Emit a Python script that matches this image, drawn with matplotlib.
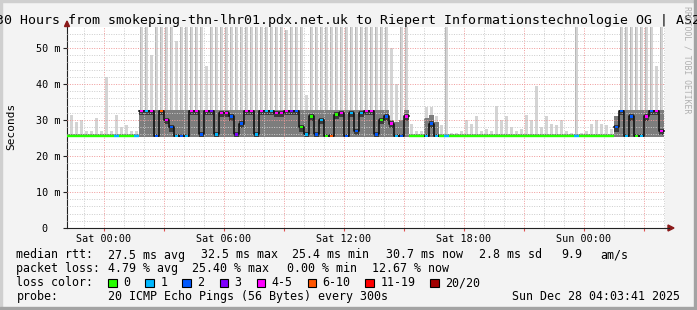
import matplotlib
matplotlib.use("Agg")
import matplotlib.pyplot as plt
import numpy as np
from matplotlib.collections import LineCollection
from matplotlib.lines import Line2D
from matplotlib.patches import Polygon, Rectangle

W, H = 697, 310
MONO = "DejaVu Sans Mono"

title = "30 Hours from smokeping-thn-lhr01.pdx.net.uk to Riepert Informationstechnologie OG | AS2"

# one column = 15 min, first column starts Fri 22:00 (hours relative to Sat 00:00)
col_start = -2.0
col_step = 0.25

median_ms = [
    25.5, 25.5, 25.5, 25.5, 25.5, 25.5, 25.5, 25.5, 25.5, 25.5,
    25.5, 25.5, 25.5, 25.5, 25.5, 32.5, 32.5, 32.5, 25.5, 32.5,
    30.0, 28.0, 25.5, 25.5, 25.5, 32.5, 32.5, 26.0, 32.5, 32.5,
    26.0, 32.0, 32.0, 31.0, 26.0, 29.0, 32.5, 32.5, 26.0, 32.5,
    32.5, 32.5, 32.0, 32.0, 32.5, 32.5, 32.5, 28.0, 26.0, 31.0,
    26.0, 30.0, 25.5, 25.5, 31.5, 32.0, 25.5, 32.0, 27.0, 32.0,
    32.5, 32.5, 26.0, 30.0, 31.0, 29.0, 25.5, 25.5, 31.0, 25.5,
    25.5, 25.5, 25.5, 29.0, 25.5, 25.5, 25.5, 25.5, 25.5, 25.5,
    25.5, 25.5, 25.5, 25.5, 25.5, 25.5, 25.5, 25.5, 25.5, 25.5,
    25.5, 25.5, 25.5, 25.5, 25.5, 25.5, 25.5, 25.5, 25.5, 25.5,
    25.5, 25.5, 25.5, 25.5, 25.5, 25.5, 25.5, 25.5, 25.5, 25.5,
    28.0, 32.5, 25.5, 31.0, 25.5, 25.5, 31.0, 32.5, 32.5, 27.0,
]

# lost pings out of 20
loss_pings = [
    0, 0, 0, 0, 0, 0, 0, 0, 0, 0,
    1, 0, 0, 0, 1, 4, 1, 4, 2, 7,
    4, 2, 1, 2, 1, 4, 4, 2, 4, 3,
    1, 4, 5, 2, 3, 2, 4, 4, 1, 4,
    1, 1, 4, 5, 4, 3, 2, 0, 1, 0,
    2, 1, 0, 7, 0, 4, 2, 1, 2, 1,
    4, 4, 2, 0, 2, 4, 1, 2, 4, 0,
    0, 0, 1, 2, 1, 0, 1, 0, 0, 0,
    0, 0, 0, 0, 0, 0, 0, 0, 0, 0,
    0, 0, 0, 0, 0, 0, 0, 0, 0, 0,
    0, 0, 1, 0, 0, 0, 0, 0, 0, 0,
    2, 2, 1, 2, 0, 1, 4, 2, 4, 4,
]

# upper edge of the dense smoke
smoke_hi_ms = [
    26.0, 26.0, 26.0, 26.0, 26.0, 26.0, 26.0, 26.0, 26.0, 26.0,
    26.0, 26.0, 26.0, 26.0, 26.0, 32.8, 32.8, 32.8, 32.8, 32.8,
    32.8, 32.8, 32.8, 32.8, 32.8, 32.8, 32.8, 32.8, 32.8, 32.8,
    32.8, 32.8, 32.8, 32.8, 32.8, 32.8, 32.8, 32.8, 32.8, 32.8,
    32.8, 32.8, 32.8, 32.8, 32.8, 32.8, 32.8, 32.8, 32.8, 32.8,
    32.8, 32.8, 32.8, 32.8, 32.8, 32.8, 32.8, 32.8, 32.8, 32.8,
    32.8, 32.8, 32.8, 32.8, 32.8, 30.0, 29.5, 30.0, 32.8, 26.0,
    26.0, 26.0, 30.5, 31.5, 29.5, 26.0, 26.0, 26.0, 26.0, 26.0,
    26.0, 26.0, 26.0, 26.0, 26.0, 26.0, 26.0, 26.0, 26.0, 26.0,
    26.0, 26.0, 26.0, 26.0, 26.0, 26.0, 26.0, 26.0, 26.0, 26.0,
    26.0, 26.0, 26.0, 26.0, 26.0, 26.0, 26.0, 26.0, 26.0, 26.0,
    31.0, 32.8, 32.8, 32.8, 32.8, 32.8, 32.8, 32.8, 32.8, 32.8,
]

# slowest ping of each column (light smoke)
max_ms = [
    30.0, 31.5, 29.5, 30.0, 27.0, 27.0, 30.5, 27.0, 42.0, 27.0,
    31.5, 28.0, 28.5, 27.0, 27.0, 60.0, 60.0, 48.0, 60.0, 60.0,
    60.0, 60.0, 52.0, 60.0, 60.0, 60.0, 60.0, 60.0, 45.0, 60.0,
    60.0, 60.0, 60.0, 60.0, 60.0, 60.0, 60.0, 60.0, 60.0, 60.0,
    60.0, 60.0, 60.0, 60.0, 55.0, 60.0, 60.0, 60.0, 37.0, 60.0,
    60.0, 60.0, 60.0, 60.0, 60.0, 60.0, 60.0, 60.0, 60.0, 60.0,
    60.0, 60.0, 60.0, 60.0, 60.0, 50.0, 40.0, 60.0, 60.0, 29.0,
    27.0, 27.0, 33.5, 33.5, 31.0, 28.5, 60.0, 26.5, 26.5, 27.0,
    30.0, 29.0, 31.0, 27.0, 27.5, 27.0, 34.0, 30.0, 31.0, 28.0,
    27.0, 27.5, 31.5, 30.0, 39.5, 28.0, 31.0, 29.0, 28.5, 30.0,
    27.0, 26.5, 60.0, 26.5, 27.0, 29.0, 30.0, 29.0, 28.5, 27.5,
    31.0, 60.0, 60.0, 60.0, 60.0, 60.0, 60.0, 60.0, 45.0, 60.0,
]
min_rtt_ms = 25.3

x_tick_hours = [0, 6, 12, 18, 24]
x_tick_labels = ["Sat 00:00", "Sat 06:00", "Sat 12:00", "Sat 18:00", "Sun 00:00"]
y_ticks = [0, 10, 20, 30, 40, 50]
y_tick_labels = ["0", "10 m", "20 m", "30 m", "40 m", "50 m"]

loss_names = ["0", "1", "2", "3", "4-5", "6-10", "11-19", "20/20"]
loss_upper = [0, 1, 2, 3, 5, 10, 19, 20]
loss_colors = ["#26ff00", "#00b8ff", "#0059ff", "#7e00ff", "#ff00ff", "#ff5500", "#ff0000", "#a10000"]

rtt_stats = ["27.5 ms avg", "32.5 ms max", "25.4 ms min", "30.7 ms now", "2.8 ms sd", "9.9", "am/s"]
loss_stats = ["4.79 % avg", "25.40 % max", "0.00 % min", "12.67 % now"]
probe_text = "20 ICMP Echo Pings (56 Bytes) every 300s"
stamp_text = "Sun Dec 28 04:03:41 2025"


def fx(x):
    return x / W


def fy(y):
    return 1 - y / H


def loss_color(n):
    for up, c in zip(loss_upper, loss_colors):
        if n <= up:
            return c
    return loss_colors[-1]


fig = plt.figure(figsize=(W / 100, H / 100), dpi=100, facecolor="#f3f3f3")

# frame of the image
fig.patches.append(Rectangle((0, fy(2)), 1, 2 / H, transform=fig.transFigure, color="#cfcfcf", zorder=0))
fig.patches.append(Rectangle((0, 0), 2 / W, 1, transform=fig.transFigure, color="#cfcfcf", zorder=0))
fig.patches.append(Rectangle((0, 0), 1, 3 / H, transform=fig.transFigure, color="#a3a3a3", zorder=0))
fig.patches.append(Rectangle((fx(694), 0), 3 / W, 1, transform=fig.transFigure, color="#a3a3a3", zorder=0))

x0, x1, ybot, ytop = 67, 665, 228, 27.1
ax = fig.add_axes([fx(x0), fy(ybot), (x1 - x0) / W, (ybot - ytop) / H])
ax.set_xlim((x0 - 104) / 20, (x1 - 104) / 20)
ax.set_ylim(0, (ybot - ytop) / 3.6)
ax.set_facecolor("white")

n = len(median_ms)
edges = col_start + col_step * np.arange(n + 1)
centers = edges[:-1] + col_step / 2
med = np.array(median_ms)
hi = np.array(smoke_hi_ms)
mx = np.array(max_ms)
busy = hi > 27

# smoke: light outliers, grey spread, dark core around the median
ax.bar(centers, mx - min_rtt_ms, bottom=min_rtt_ms, width=0.16, color="#d4d4d4", lw=0, zorder=1)
tall = mx >= 55
ax.bar(centers[tall] - 0.05, mx[tall] - min_rtt_ms, bottom=min_rtt_ms, width=0.06,
       color="#b8b8b8", lw=0, zorder=1)
ax.stairs(hi, edges, baseline=min_rtt_ms, fill=True, color="#7d7d7d", zorder=2)
core_lo = np.where(busy, np.maximum(min_rtt_ms, med - 1.2), min_rtt_ms)
core_hi = np.where(busy, np.minimum(hi, med + 0.6), min_rtt_ms)
ax.stairs(core_hi, edges, baseline=core_lo, fill=True, color="#3c3c3c", zorder=2)

# grid drawn over the smoke
for h in range(-1, 29):
    c = "#f09a9a" if h % 3 == 0 else "#cccccc"
    ax.axvline(h, color=c, lw=0.7, ls=(0, (1, 1.5)), zorder=3)
for v in range(2, 56, 2):
    c = "#f09a9a" if v % 10 == 0 else "#cccccc"
    ax.axhline(v, color=c, lw=0.7, ls=(0, (1, 1.5)), zorder=3)

# median: black steps where the link is busy, loss-coloured dots on top
mb = np.where(busy, med, np.nan)
ax.step(edges, np.r_[mb, mb[-1]], where="post", color="#111111", lw=1.2, zorder=4)
ax.scatter(centers[busy], med[busy], c=[loss_color(k) for k in np.array(loss_pings)[busy]],
           marker="s", s=3.5, lw=0, zorder=5)
segs = [[(edges[i], med[i]), (edges[i + 1], med[i])] for i in range(n) if not busy[i]]
cols = [loss_color(loss_pings[i]) for i in range(n) if not busy[i]]
ax.add_collection(LineCollection(segs, colors=cols, lw=1.7, zorder=5))

for s in ("top", "right"):
    ax.spines[s].set_visible(False)
for s in ("left", "bottom"):
    ax.spines[s].set_color("#222222")
    ax.spines[s].set_linewidth(0.8)
ax.set_yticks(y_ticks)
ax.set_xticks(range(0, 28, 3))
ax.tick_params(axis="y", direction="out", length=3, width=0.8, color="#222222", labelleft=False)
ax.tick_params(axis="x", direction="out", length=2.5, width=0.8, color="#e05050", labelbottom=False)

# axis arrows
fig.add_artist(Line2D([fx(665), fx(669)], [fy(228), fy(228)], color="#222222", lw=0.8))
fig.add_artist(Polygon([(fx(668), fy(225)), (fx(668), fy(231)), (fx(674), fy(228))],
                       closed=True, transform=fig.transFigure, color="#8b1a1a"))
fig.add_artist(Polygon([(fx(64.5), fy(26.5)), (fx(69.5), fy(26.5)), (fx(67), fy(21))],
                       closed=True, transform=fig.transFigure, color="#8b1a1a"))

# tick labels
for v, lab in zip(y_ticks, y_tick_labels):
    xr = 47 if v == 0 else 60
    fig.text(fx(xr), fy(228 - v * 3.6 + 3.6), lab, ha="right", va="baseline",
             fontsize=7.3, family=MONO)
for h, lab in zip(x_tick_hours, x_tick_labels):
    fig.text(fx(104 + 20 * h), fy(241.5), lab, ha="center", va="baseline",
             fontsize=7.3, family=MONO)

fig.text(fx(-3.9), fy(24), title, ha="left", va="baseline", fontsize=9.57, family=MONO)
fig.text(fx(11), fy(126.5), "Seconds", rotation=90, ha="center", va="center", fontsize=8, family=MONO)
fig.text(fx(687), fy(60), "RRDTOOL / TOBI OETIKER", rotation=270, ha="center", va="center",
         fontsize=5.9, family=MONO, color="#b0b0b0")

# legend
fs = 8.37
fig.text(fx(16.4), fy(258.5), "median rtt:", fontsize=fs, family=MONO, va="baseline")
for xp, s in zip([107.6, 200.9, 292, 385.8, 479, 561, 600], rtt_stats):
    fig.text(fx(xp), fy(258.5), s, fontsize=fs, family=MONO, va="baseline")
fig.text(fx(16.4), fy(272.3), "packet loss:", fontsize=fs, family=MONO, va="baseline")
for xp, s in zip([107.6, 192, 286.7, 372.4], loss_stats):
    fig.text(fx(xp), fy(272.3), s, fontsize=fs, family=MONO, va="baseline")
fig.text(fx(16.4), fy(286.1), "loss color:", fontsize=fs, family=MONO, va="baseline")
for xp, name, c in zip([108, 145.3, 182.2, 219.6, 256.9, 307.6, 365.3, 430.2], loss_names, loss_colors):
    fig.patches.append(Rectangle((fx(xp), fy(287)), 8.5 / W, 8.5 / H, transform=fig.transFigure,
                                 facecolor=c, edgecolor="black", lw=0.8))
    fig.text(fx(xp + 15), fy(286.1), name, fontsize=fs, family=MONO, va="baseline")
fig.text(fx(16.4), fy(299.9), "probe:", fontsize=fs, family=MONO, va="baseline")
fig.text(fx(107.6), fy(299.9), probe_text, fontsize=fs, family=MONO, va="baseline")
fig.text(fx(680.5), fy(299.9), stamp_text, fontsize=fs, family=MONO, va="baseline", ha="right")

fig.savefig("out.png", dpi=100, facecolor=fig.get_facecolor())
